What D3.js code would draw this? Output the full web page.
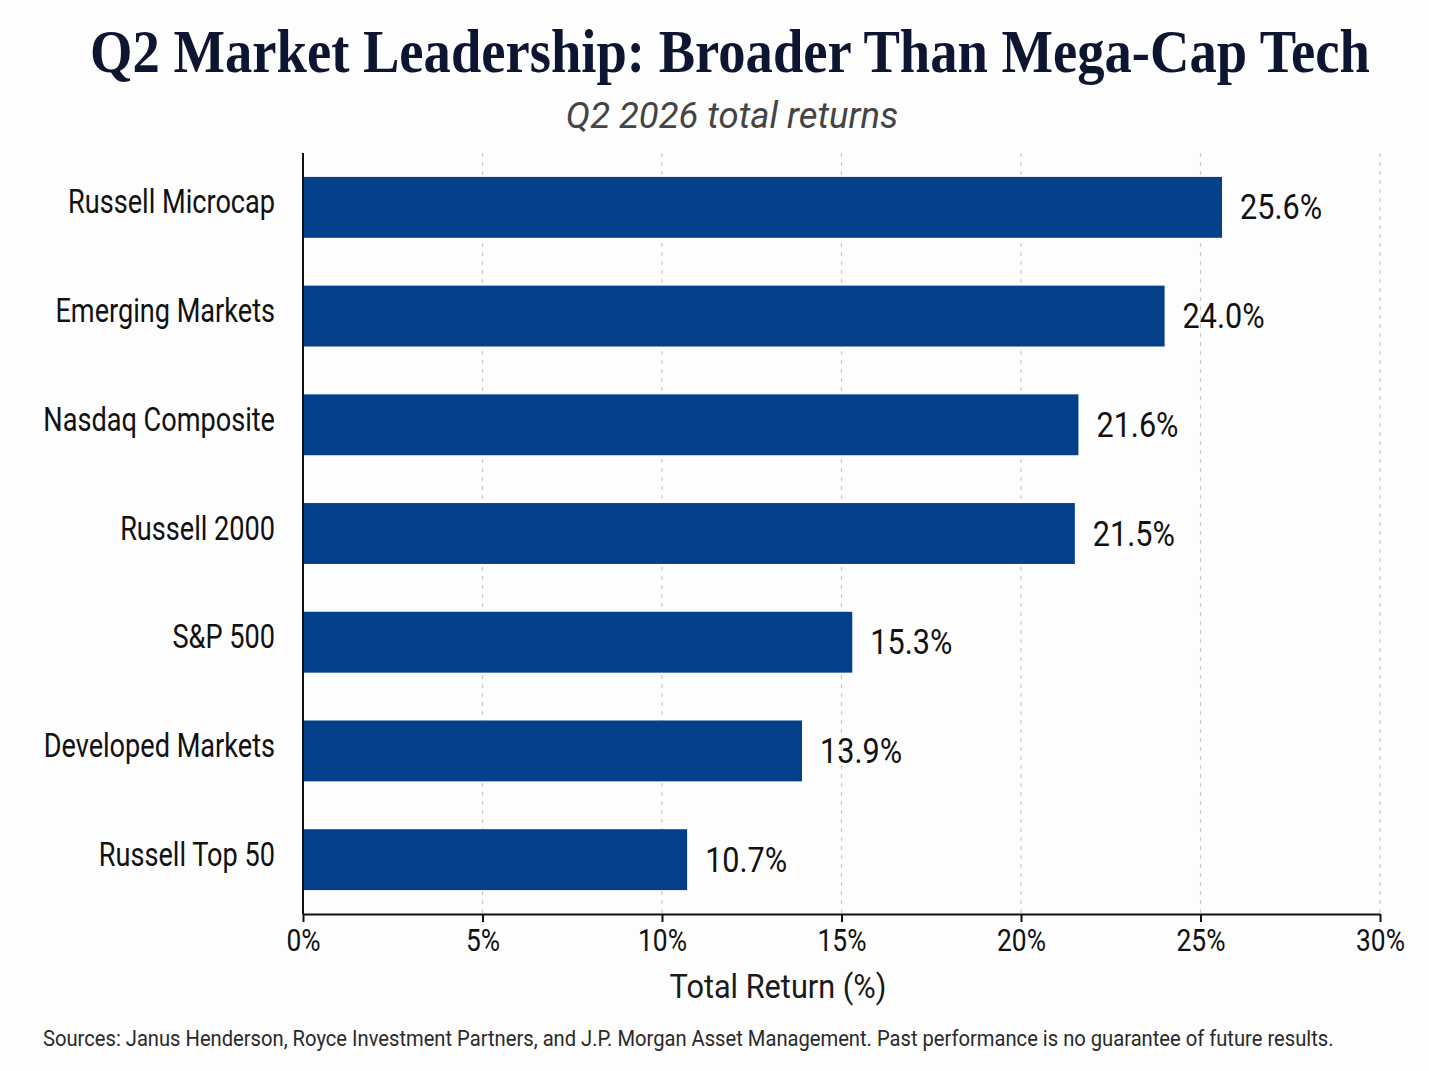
<!DOCTYPE html>
<html>
<head>
<meta charset="utf-8">
<script src="https://cdn.jsdelivr.net/npm/d3@7"></script>
<style>
  html, body { margin: 0; padding: 0; background: #fdfdfd; }
  svg { display: block; }
</style>
</head>
<body>
<svg id="chart" width="1429" height="1071"></svg>
<script>
const categories = ["Russell Microcap", "Emerging Markets", "Nasdaq Composite", "Russell 2000", "S&P 500", "Developed Markets", "Russell Top 50"];
const returns = [25.6, 24.0, 21.6, 21.5, 15.3, 13.9, 10.7];
const tickValues = [0, 5, 10, 15, 20, 25, 30];
const tickLabels = ["0%", "5%", "10%", "15%", "20%", "25%", "30%"];
const titleText = "Q2 Market Leadership: Broader Than Mega-Cap Tech";
const subtitleText = "Q2 2026 total returns";
const xAxisTitle = "Total Return (%)";
const sourceText = "Sources: Janus Henderson, Royce Investment Partners, and J.P. Morgan Asset Management. Past performance is no guarantee of future results.";

const sans = "Roboto, 'Noto Sans', sans-serif";
const SX = 0.85; // horizontal condensing of the sans labels
const svg = d3.select("#chart");
svg.append("rect").attr("width", 1429).attr("height", 1071).attr("fill", "#fdfdfd");

// condense a text selection horizontally around its own x,y anchor
function condense(sel, sx) {
  sel.each(function () {
    const t = d3.select(this);
    const x0 = +t.attr("x") || 0;
    const y0 = +t.attr("y") || 0;
    t.attr("x", 0).attr("y", 0)
     .attr("transform", `translate(${x0},${y0}) scale(${sx},1)`);
  });
}

const x = d3.scaleLinear().domain([0, 30]).range([303, 1380]);
const y = d3.scaleBand().domain(categories).range([153, 914]).paddingInner(0.44).paddingOuter(0.22);

// Title
const title = svg.append("text").attr("x", 730).attr("y", 72).attr("text-anchor", "middle")
  .attr("font-family", "'Liberation Serif', 'DejaVu Serif', serif").attr("font-weight", "bold")
  .attr("font-size", 62).attr("fill", "#0d1530")
  .text(titleText);
const tw = title.node().getComputedTextLength();
condense(title, 1280 / tw);

const sub = svg.append("text").attr("x", 732).attr("y", 128).attr("text-anchor", "middle")
  .attr("font-family", sans).attr("font-style", "italic")
  .attr("font-size", 37).attr("fill", "#444")
  .text(subtitleText);
condense(sub, 0.985);

// Gridlines
svg.append("g").selectAll("line").data(tickValues.filter(d => d > 0)).join("line")
  .attr("x1", d => x(d)).attr("x2", d => x(d))
  .attr("y1", 153).attr("y2", 914)
  .attr("stroke", "#c8c8c8").attr("stroke-width", 1.2).attr("stroke-dasharray", "4,5");

// Bars
svg.append("g").selectAll("rect").data(categories).join("rect")
  .attr("x", x(0)).attr("y", d => y(d))
  .attr("width", (d, i) => x(returns[i]) - x(0))
  .attr("height", y.bandwidth())
  .attr("fill", "#04408a");

// Value labels
const vl = svg.append("g").selectAll("text").data(categories).join("text")
  .attr("x", (d, i) => x(returns[i]) + 18)
  .attr("y", d => y(d) + y.bandwidth() / 2 + 12)
  .attr("font-family", sans).attr("font-size", 36).attr("fill", "#111")
  .text((d, i) => returns[i].toFixed(1) + "%");
condense(vl, SX);

// Y axis
const yAxis = svg.append("g").attr("transform", `translate(${x(0)},0)`)
  .call(d3.axisLeft(y).tickSize(0).tickPadding(28));
yAxis.select(".domain").remove();
yAxis.selectAll("text").attr("font-family", sans).attr("font-size", 33).attr("fill", "#111")
  .attr("dy", null).attr("y", 6);
condense(yAxis.selectAll("text"), 0.822);
svg.append("line").attr("x1", x(0)).attr("x2", x(0)).attr("y1", 153).attr("y2", 914)
  .attr("stroke", "#111").attr("stroke-width", 2);

// X axis
const xAxis = svg.append("g").attr("transform", "translate(0,914)")
  .call(d3.axisBottom(x).tickValues(tickValues).tickFormat((d, i) => tickLabels[i]).tickSize(8).tickSizeOuter(0).tickPadding(6));
xAxis.select(".domain").attr("stroke", "#111").attr("stroke-width", 2);
xAxis.selectAll(".tick line").attr("stroke", "#111").attr("stroke-width", 2);
xAxis.selectAll("text").attr("font-family", sans).attr("font-size", 31).attr("fill", "#111")
  .attr("dy", null).attr("y", 37);
condense(xAxis.selectAll("text"), SX);

const xt = svg.append("text").attr("x", 778).attr("y", 998).attr("text-anchor", "middle")
  .attr("font-family", sans).attr("font-size", 33).attr("fill", "#1a1a1a")
  .text(xAxisTitle);
condense(xt, 0.93);

const src = svg.append("text").attr("x", 43).attr("y", 1046)
  .attr("font-family", sans).attr("font-size", 22).attr("fill", "#2a2a2a")
  .text(sourceText);
condense(src, 0.917);
</script>
</body>
</html>
